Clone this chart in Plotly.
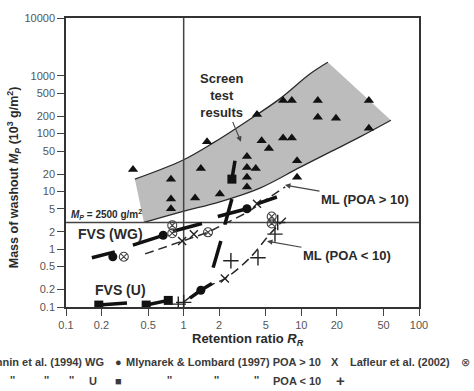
import math
import plotly.graph_objects as go

# ---------------- data ----------------
# envelope of screen test results (upper edge left->right, lower edge right->left)
band_upper_x = [0.385, 0.97, 1.78, 3.45, 6.6, 11.8, 16.8]
band_upper_y = [16.3, 34.2, 69, 164, 403, 1075, 1718]
band_lower_x = [57.7, 31.5, 18.5, 9.7, 4.45, 2.03, 0.97, 0.46]
band_lower_y = [170, 87.5, 50.6, 26, 11.4, 6.6, 4.47, 2.9]

# screen test results (triangles)
tri_x = [0.371, 0.78, 0.78, 0.78, 1.25, 1.40, 1.58, 2.03, 3.45, 3.45, 4.1, 3.45, 3.45,
         4.2, 4.6, 5.3, 7.0, 8.3, 7.0, 8.3, 9.2, 9.2, 13.8, 13.8, 19.7, 37.5, 37.5]
tri_y = [24, 16.3, 7.4, 5.0, 7.7, 25, 72, 9.0, 40, 26, 25, 17.6, 11.9,
         215, 75, 55, 373, 373, 84, 84, 34, 17.6, 373, 191, 184, 373, 124]

# Fannin et al. (1994) -- thick segments
seg_x = [0.166, 0.26, None, 0.37, 0.67, None, 0.81, 1.43, None, 1.95, 3.45, None,
         4.2, 6.2, None, 2.24, 2.57, None, 1.78, 2.07, None, 2.57, 2.73, None,
         0.19, 0.33, None, 0.48, 0.74, None, 1.13, 1.40, 1.74]
seg_y = [0.71, 0.9, None, 1.18, 1.74, None, 2.04, 2.79, None, 3.67, 5.0, None,
         6.1, 8.0, None, 2.68, 7.4, None, 0.48, 1.38, None, 16.3, 34, None,
         0.108, 0.117, None, 0.108, 0.13, None, 0.142, 0.195, 0.256]
wg_x = [0.25, 0.67, 3.45, 1.40]
wg_y = [0.74, 1.74, 5.0, 0.195]
u_x = [0.19, 0.48, 0.74, 2.57]
u_y = [0.108, 0.108, 0.13, 16.3]

# Mlynarek & Lombard (1997)
ml10_line_x = [0.47, 0.97, 1.61, 3.45, 7.3]
ml10_line_y = [0.83, 1.38, 1.96, 4.3, 12.0]
ml10_x = [0.97, 1.22, 4.2, 2.24]
ml10_y = [1.38, 1.82, 6.1, 0.31]
ml_lt10_line_x = [0.99, 1.46, 2.24, 3.66, 5.4, 7.55]
ml_lt10_line_y = [0.12, 0.21, 0.31, 0.71, 1.82, 3.67]
lt10_x = [2.52, 4.28, 5.97, 6.3, 0.90, 1.0]
lt10_y = [0.63, 0.71, 1.82, 2.9, 0.112, 0.12]

# Lafleur et al. (2002)
laf_x = [0.31, 0.80, 0.80, 1.61, 5.6, 5.6]
laf_y = [0.74, 2.58, 1.89, 1.96, 3.67, 2.79]

mp_limit = 2.9          # Mp = 2500 g/m2 reference line (as drawn)
rr_limit = 1.0

x_ticks = [0.1, 0.2, 0.5, 1, 2, 5, 10, 20, 50, 100]
y_ticks = [0.1, 0.2, 0.5, 1, 2, 5, 10, 20, 50, 100, 200, 500, 1000, 10000]

# ---------------- figure ----------------
FONT = "Liberation Sans"
DARK = "#2a2a2a"
MK = "#111111"
fig = go.Figure()

poly_x = band_upper_x + band_lower_x + [band_upper_x[0]]
poly_y = band_upper_y + band_lower_y + [band_upper_y[0]]
fig.add_trace(go.Scatter(x=poly_x, y=poly_y, fill="toself", fillcolor="#bcbcbc",
                         mode="lines", line=dict(width=0, color="#bcbcbc"), hoverinfo="skip"))
fig.add_trace(go.Scatter(x=band_upper_x, y=band_upper_y, mode="lines",
                         line=dict(color=DARK, width=1.3, shape="spline")))
fig.add_trace(go.Scatter(x=band_lower_x, y=band_lower_y, mode="lines",
                         line=dict(color=DARK, width=1.3, shape="spline")))

# reference lines
fig.add_trace(go.Scatter(x=[rr_limit, rr_limit], y=[0.1, 10000], mode="lines",
                         line=dict(color="#444", width=1.5)))
fig.add_trace(go.Scatter(x=[0.1, 100], y=[mp_limit, mp_limit], mode="lines",
                         line=dict(color="#444", width=1.5)))

fig.add_trace(go.Scatter(x=tri_x, y=tri_y, mode="markers",
                         marker=dict(symbol="triangle-up", size=9, color=MK)))

fig.add_trace(go.Scatter(x=ml10_line_x, y=ml10_line_y, mode="lines",
                         line=dict(color=DARK, width=1.5, dash="9px,5px")))
fig.add_trace(go.Scatter(x=ml_lt10_line_x, y=ml_lt10_line_y, mode="lines",
                         line=dict(color=DARK, width=1.5, dash="9px,5px", shape="spline")))

fig.add_trace(go.Scatter(x=seg_x, y=seg_y, mode="lines",
                         line=dict(color=MK, width=3.5)))
fig.add_trace(go.Scatter(x=wg_x, y=wg_y, mode="markers",
                         marker=dict(symbol="circle", size=9, color=MK)))
fig.add_trace(go.Scatter(x=u_x, y=u_y, mode="markers",
                         marker=dict(symbol="square", size=9, color=MK)))
fig.add_trace(go.Scatter(x=ml10_x, y=ml10_y, mode="markers",
                         marker=dict(symbol="x-thin-open", size=8, color="#222",
                                     line=dict(color="#222", width=1.4))))
fig.add_trace(go.Scatter(x=lt10_x, y=lt10_y, mode="markers",
                         marker=dict(symbol="cross-thin-open", size=11, color="#222",
                                     line=dict(color="#222", width=1.4))))
fig.add_trace(go.Scatter(x=laf_x, y=laf_y, mode="markers",
                         marker=dict(symbol="circle-x-open", size=9, color="#444",
                                     line=dict(color="#444", width=1.1))))

ann = []
def txt(text, x, y, size=13, xref="x", yref="y", color=DARK, **kw):
    d = dict(text=text, x=x, y=y, xref=xref, yref=yref, showarrow=False,
             xanchor="center", yanchor="middle",
             font=dict(family=FONT, size=size, color=color))
    d.update(kw)
    ann.append(d)

txt("<b>Screen<br>test<br>results</b>", 0.487, 1.857, size=13,
    showarrow=True, ax=-19, ay=-46, arrowhead=2, arrowsize=1, arrowwidth=1.1,
    arrowcolor="#444")
txt("<b>ML (POA &gt; 10)</b>", 0.861, 1.109, showarrow=True, ax=80, ay=14,
    arrowhead=2, arrowwidth=1.1, arrowcolor="#444")
txt("<b>ML (POA &lt; 10)</b>", 0.708, 0.139, showarrow=True, ax=80, ay=14,
    arrowhead=2, arrowwidth=1.1, arrowcolor="#444")
txt("<b><i>M<sub>P</sub></i> = 2500 g/m<sup>2</sup></b>", -0.66, 0.599, size=10)
txt("<b>FVS (WG)</b>", -0.626, 0.259, size=14)
txt("<b>FVS (U)</b>", -0.533, -0.711, size=14)

def px(x):
    return (x - 66) / 353
def py(y):
    return (307 - y) / 294

txt("<b>Retention ratio <i>R<sub>R</sub></i></b>", px(248), py(340), size=13,
    xref="paper", yref="paper")
txt("<b>Mass of washout <i>M<sub>P</sub></i> (10<sup>3</sup> g/m<sup>2</sup>)</b>",
    px(14), py(175), size=12.5, xref="paper", yref="paper", textangle=-90)

LEG = dict(size=11, xref="paper", yref="paper", color="#3a3a3a")
txt("<b>Fannin et al. (1994) WG</b>", px(106), py(363), xanchor="right", **LEG)
txt("●", px(118), py(363), **LEG)
txt("<b>Mlynarek &amp; Lombard (1997) POA &gt; 10</b>", px(323), py(363), xanchor="right", **LEG)
txt("<b>X</b>", px(335), py(363), **LEG)
txt("<b>Lafleur et al. (2002)</b>", px(452), py(363), xanchor="right", **LEG)
txt("⊗", px(465), py(363), **LEG)
for xx in [13, 47, 72, 170, 217, 257]:
    txt("<b>''</b>", px(xx), py(381), **LEG)
txt("<b>U</b>", px(93), py(382), **LEG)
txt("■", px(118), py(382), **LEG)
txt("<b>POA &lt; 10</b>", px(323), py(382), xanchor="right", **LEG)
txt("<b>+</b>", px(340), py(382), size=15, xref="paper", yref="paper", color="#3a3a3a")

axis_common = dict(type="log", showgrid=False, zeroline=False, showline=True,
                   linecolor="#333", linewidth=1.5, mirror=True, ticks="outside",
                   ticklen=7, tickwidth=1.2, tickcolor="#444",
                   tickfont=dict(family=FONT, size=11, color="#555"))
fig.update_xaxes(range=[-1, 2], tickvals=x_ticks,
                 ticktext=[str(v) for v in x_ticks], **axis_common)
fig.update_yaxes(range=[-1, 4], tickvals=y_ticks,
                 ticktext=[str(v) for v in y_ticks], **axis_common)

fig.update_layout(width=474, height=391, margin=dict(l=66, r=55, t=13, b=84),
                  paper_bgcolor="white", plot_bgcolor="white", showlegend=False,
                  annotations=ann, font=dict(family=FONT))
fig.write_html("out.html")
